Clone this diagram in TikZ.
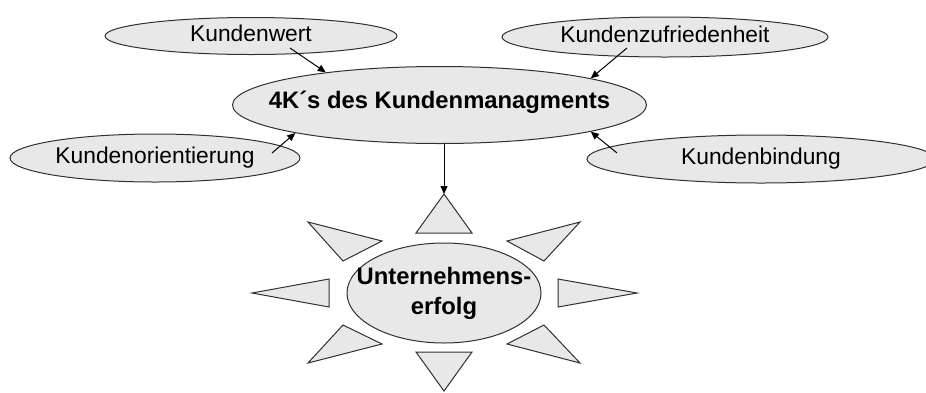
\documentclass[tikz,border=0pt]{standalone}
\usepackage{fontspec}
\setmainfont{Liberation Sans}
\usetikzlibrary{shapes.geometric,arrows.meta,calc}
\definecolor{bubblefill}{HTML}{E8E8E8}
\definecolor{edgegray}{HTML}{303030}
\begin{document}
\begin{tikzpicture}[x=1pt,y=-1pt,
  bubble/.style={ellipse, draw=edgegray, line width=1pt, fill=bubblefill, inner sep=0pt},
  lbl/.style={font=\fontsize{22.8}{27}\selectfont, inner sep=0pt, text height=0.72em, text depth=0pt, yshift=-1.5pt},
  boldlbl/.style={font=\bfseries\fontsize{23.8}{30}\selectfont, inner sep=0pt, align=center},
  link/.style={draw=black, line width=1pt, -{Triangle[length=8pt,width=7pt]}},
  ray/.style={draw=edgegray, line width=1pt, fill=bubblefill, line join=miter}]
\useasboundingbox (0,0) rectangle (926,392);
\clip (0,0) rectangle (926,392);

% the four K's around the central bubble
\node[bubble, minimum width=292pt, minimum height=37pt,
      label={[lbl]center:Kundenwert}] (kw) at (251,36) {};
\node[bubble, minimum width=326pt, minimum height=40pt,
      label={[lbl]center:Kundenzufriedenheit}] (kz) at (665,37) {};
\node[bubble, minimum width=290pt, minimum height=48pt,
      label={[lbl]center:Kundenorientierung}] (ko) at (155,158) {};
\node[bubble, minimum width=348pt, minimum height=48pt,
      label={[lbl]center:Kundenbindung}] (kb) at (761,159) {};

% central bubble
\node[bubble, minimum width=414pt, minimum height=77pt,
      label={[boldlbl, text height=0.72em, text depth=0pt]center:4K´s des Kundenmanagments}] (c) at (439.5,105) {};

% sun: result bubble with rays
\node[bubble, minimum width=194pt, minimum height=100pt,
      label={[boldlbl]center:Unternehmens-\\erfolg}] (u) at (444,293) {};

\begin{scope}[shift={(u.center)}]
  \coordinate (apex) at (0,-99);
  \filldraw[ray] (apex) -- (-28,-60) -- (28,-60) -- cycle;
  \filldraw[ray] (-28,59) -- (28,59) -- (0,98) -- cycle;
  \filldraw[ray] (-192,0) -- (-115,-14) -- (-115,14) -- cycle;
  \filldraw[ray] (193,0) -- (114,-14) -- (114,14) -- cycle;
  \filldraw[ray] (-136,-71) -- (-62,-52) -- (-101,-32) -- cycle;
  \filldraw[ray] (136,-71) -- (63,-52) -- (100,-32) -- cycle;
  \filldraw[ray] (-101,32) -- (-62,51) -- (-136,70) -- cycle;
  \filldraw[ray] (100,32) -- (63,51) -- (136,70) -- cycle;
\end{scope}

% connectors
\draw[link] ($(kw)+(39,12)$) -- (c.164);
\draw[link] ($(kz)+(-38,11)$) -- (c.10);
\draw[link] ($(ko)+(117,-5)$) -- (c.191);
\draw[link] ($(kb)+(-144,-6)$) -- (c.350);
\draw[link] (c.south -| apex) -- (apex);
\end{tikzpicture}
\end{document}
